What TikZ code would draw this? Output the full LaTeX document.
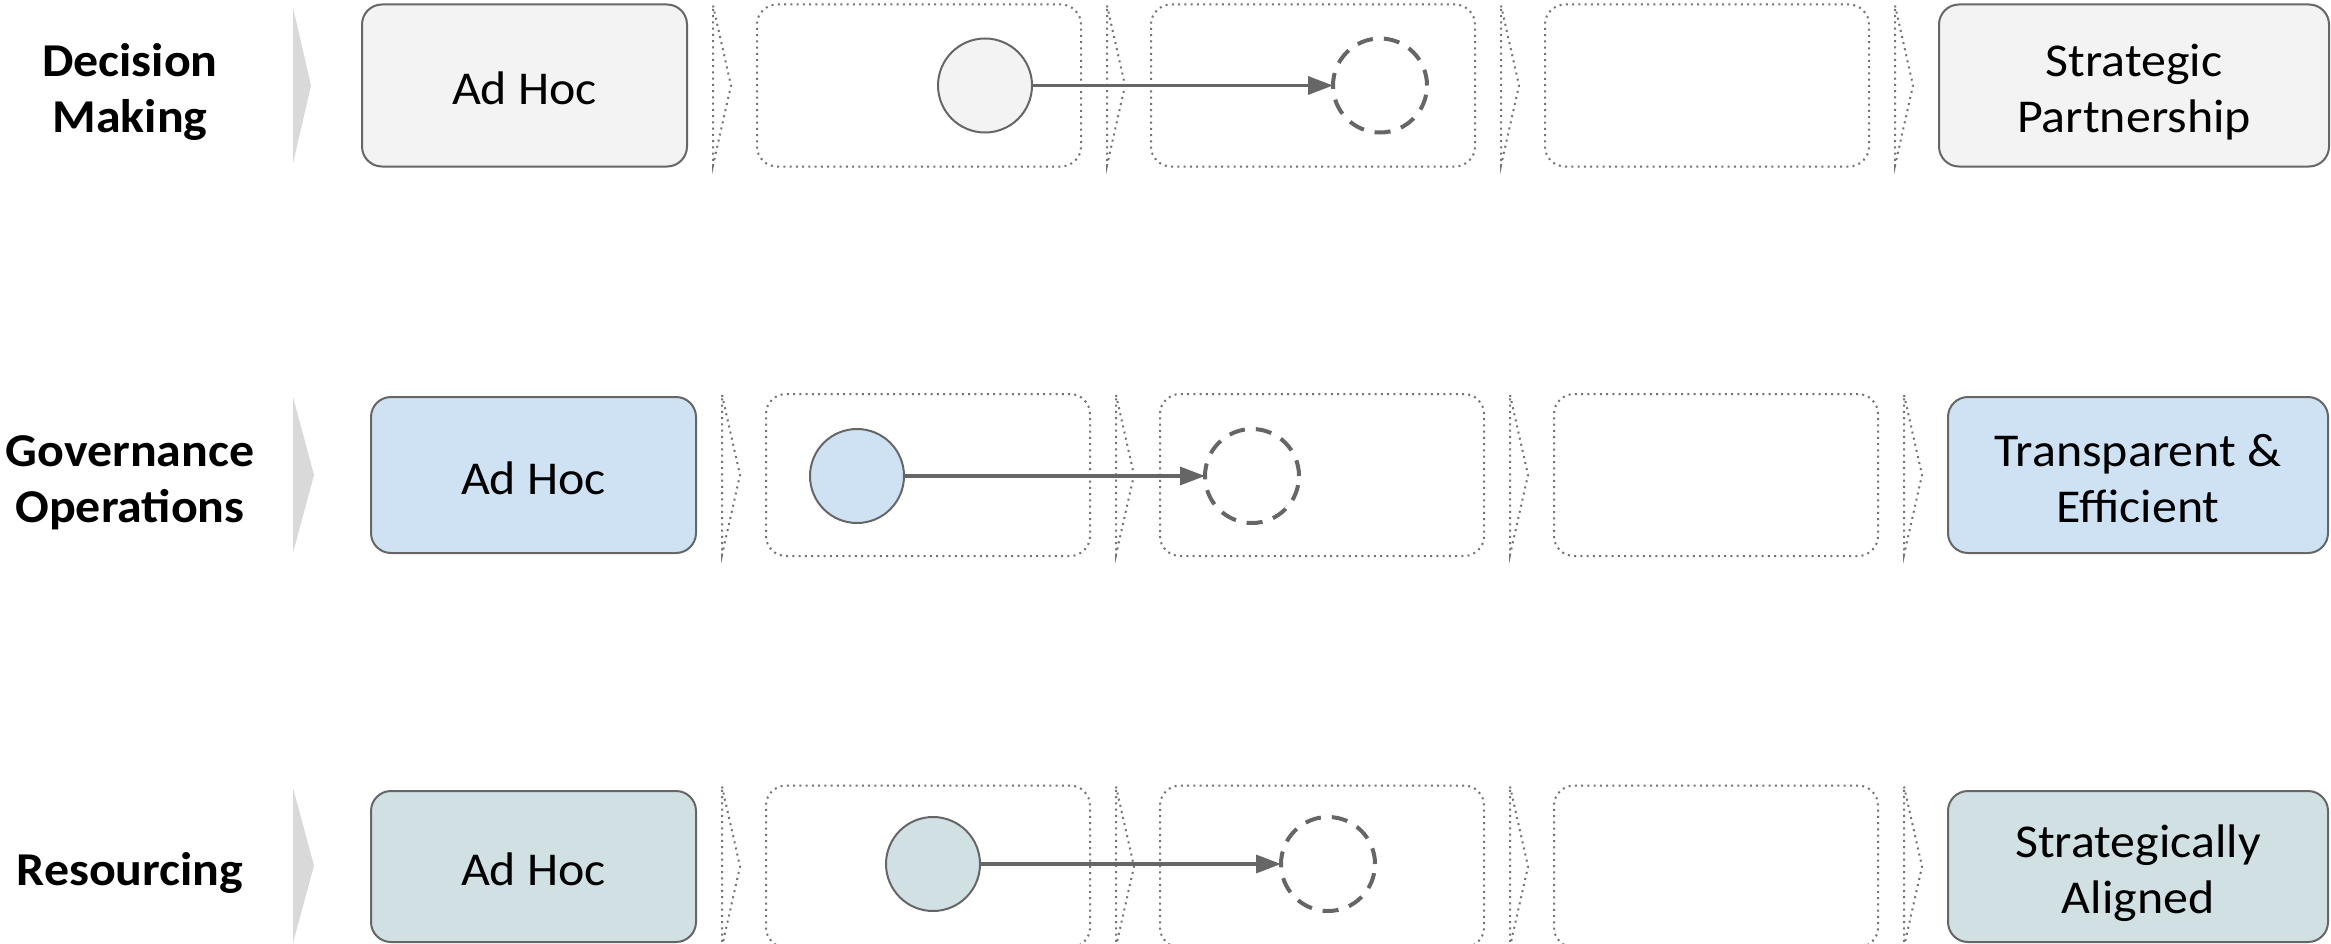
\documentclass[tikz,border=0pt]{standalone}
\usepackage{fontspec}
\setmainfont{Carlito}[FakeStretch=1.06]
\usepackage{xcolor}
\definecolor{cLine}{HTML}{666666}
\definecolor{cDots}{HTML}{737373}
\definecolor{cChev}{HTML}{D9D9D9}
\definecolor{cGrey}{HTML}{F3F3F3}
\definecolor{cBlue}{HTML}{CFE2F3}
\definecolor{cTeal}{HTML}{D0E0E3}
\usepackage{tikz}
\usetikzlibrary{positioning,arrows.meta}
\newcommand{\stagefont}{\fontsize{26.8pt}{32pt}\selectfont}
\tikzset{
  % fixed text box, so the lines sit as in the slide
  one-line/.style={align=center,text height=7.7mm,text depth=0pt},
  two-line/.style={align=center,text height=18.9mm,text depth=0pt},
  row-label/.style={font=\stagefont\bfseries},
  stage-box/.style={font=\stagefont,draw=cLine,line width=0.4mm,rounded corners=4mm,
    minimum width=65mm,minimum height=32.4mm,inner sep=0pt,outer sep=0pt},
  stage-open/.style={draw=cDots,line width=0.4mm,dash pattern=on 0.4mm off 0.85mm,
    rounded corners=4mm,minimum width=64.8mm,minimum height=32.4mm,
    inner sep=0pt,outer sep=0pt},
  chev-slot/.style={minimum width=3.6mm,minimum height=32mm,inner sep=0pt,outer sep=0pt},
  chev-dots/.style={draw=cDots,line width=0.4mm,dash pattern=on 0.4mm off 0.85mm},
  chev-lead/.style={fill=cChev},
  dot-now/.style={circle,draw=cLine,line width=0.4mm,minimum size=18.8mm,
    inner sep=0pt,outer sep=0pt},
  dot-goal/.style={circle,draw=cLine,line width=0.8mm,dash pattern=on 3.2mm off 2.2mm,
    minimum size=18.8mm,inner sep=0pt,outer sep=0pt},
  arrow/.style={-{Triangle[length=5mm,width=3.6mm]},line width=0.66mm,draw=cLine},
}

\begin{document}
\begin{tikzpicture}[node distance=5.2mm]
  \useasboundingbox (0,0) rectangle (466.2mm,-188.8mm);
  % Decision Making
  \node[row-label,two-line] (lab1) at (26mm,-17.1mm) {Decision\\Making};
  \node[chev-slot,minimum width=3.6mm,minimum height=31.2mm] (lead1) at (60.4mm,-17.1mm) {};
  \node[stage-box,one-line,fill=cGrey] (s1a) at (104.9mm,-17.1mm) {Ad Hoc};
  \node[chev-slot,right=of s1a] (c1a) {};
  \node[stage-open,right=of c1a] (s1b) {};
  \node[chev-slot,right=of s1b] (c1b) {};
  \node[stage-open,right=of c1b] (s1c) {};
  \node[chev-slot,right=of s1c] (c1c) {};
  \node[stage-open,right=of c1c] (s1d) {};
  \node[chev-slot,right=of s1d] (c1d) {};
  \node[stage-box,two-line,fill=cGrey,minimum width=78mm,right=of c1d] (s1e) {Strategic\\Partnership};
  % Governance Operations
  \node[row-label,two-line] (lab2) at (26mm,-95mm) {Governance\\Operations};
  \node[chev-slot,minimum width=4.2mm,minimum height=31.2mm] (lead2) at (60.7mm,-95mm) {};
  \node[stage-box,one-line,fill=cBlue,minimum height=31.2mm] (s2a) at (106.7mm,-95mm) {Ad Hoc};
  \node[chev-slot,right=of s2a] (c2a) {};
  \node[stage-open,right=of c2a] (s2b) {};
  \node[chev-slot,right=of s2b] (c2b) {};
  \node[stage-open,right=of c2b] (s2c) {};
  \node[chev-slot,right=of s2c] (c2c) {};
  \node[stage-open,right=of c2c] (s2d) {};
  \node[chev-slot,right=of s2d] (c2d) {};
  \node[stage-box,two-line,fill=cBlue,minimum height=31.2mm,minimum width=76mm,right=of c2d] (s2e) {Transparent \&\\Efficient};
  % Resourcing
  \node[row-label,one-line] (lab3) at (26mm,-173.3mm) {Resourcing};
  \node[chev-slot,minimum width=4.2mm,minimum height=31mm] (lead3) at (60.7mm,-173.1mm) {};
  \node[stage-box,one-line,fill=cTeal,minimum height=30.2mm] (s3a) at (106.7mm,-173.3mm) {Ad Hoc};
  \node[chev-slot,right=of s3a] (c3a) {};
  \node[stage-open,right=of c3a] (s3b) {};
  \node[chev-slot,right=of s3b] (c3b) {};
  \node[stage-open,right=of c3b] (s3c) {};
  \node[chev-slot,right=of s3c] (c3c) {};
  \node[stage-open,right=of c3c] (s3d) {};
  \node[chev-slot,right=of s3d] (c3d) {};
  \node[stage-box,two-line,fill=cTeal,minimum height=30.2mm,minimum width=76mm,right=of c3d] (s3e) {Strategically\\Aligned};
  % chevrons
  \foreach \c in {lead1,lead2,lead3}
    \fill[chev-lead] (\c.north west) -- (\c.east) -- (\c.south west) -- cycle;
  \foreach \c in {c1a,c1b,c1c,c1d,c2a,c2b,c2c,c2d,c3a,c3b,c3c,c3d}
    \draw[chev-dots] (\c.north west) -- (\c.east) -- (\c.south west) -- cycle;
  % now -> target
  \node[dot-now,fill=cGrey] (now1) at (197mm,-17.1mm) {};
  \node[dot-goal,right=60.2mm of now1] (goal1) {};
  \draw[arrow] (now1) -- (goal1);
  \node[dot-now,fill=cBlue] (now2) at (171.4mm,-95.2mm) {};
  \node[dot-goal,right=60.2mm of now2] (goal2) {};
  \draw[arrow] (now2) -- (goal2);
  \node[dot-now,fill=cTeal] (now3) at (186.6mm,-172.8mm) {};
  \node[dot-goal,right=60.2mm of now3] (goal3) {};
  \draw[arrow] (now3) -- (goal3);
\end{tikzpicture}
\end{document}
